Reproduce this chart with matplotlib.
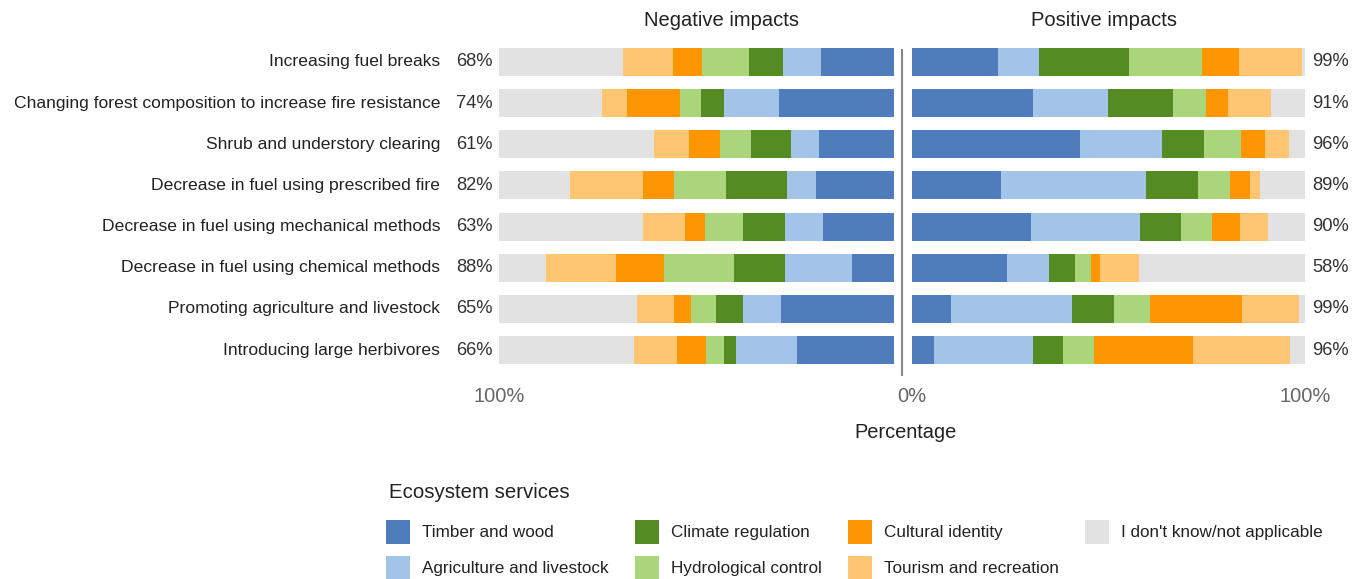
import matplotlib
matplotlib.use("Agg")
import matplotlib.pyplot as plt
import matplotlib.transforms as mtransforms
from matplotlib.patches import Patch
from matplotlib.lines import Line2D
import numpy as np

plt.rcParams["font.family"] = ["Liberation Sans", "DejaVu Sans"]

categories = [
    "Increasing fuel breaks",
    "Changing forest composition to increase fire resistance",
    "Shrub and understory clearing",
    "Decrease in fuel using prescribed fire",
    "Decrease in fuel using mechanical methods",
    "Decrease in fuel using chemical methods",
    "Promoting agriculture and livestock",
    "Introducing large herbivores",
]

services = [
    "Timber and wood",
    "Agriculture and livestock",
    "Climate regulation",
    "Hydrological control",
    "Cultural identity",
    "Tourism and recreation",
    "I don't know/not applicable",
]
colors = ["#4f7dbc", "#a2c4e9", "#548b23", "#abd57b", "#fe9502", "#fec672", "#e2e2e2"]

# negative impacts (% of respondents)
timber_neg = [18.6, 29.2, 19.1, 19.8, 18.1, 10.7, 28.5, 24.5]
agri_neg = [9.6, 13.9, 7.0, 7.3, 9.5, 16.9, 9.8, 15.6]
climate_neg = [8.6, 5.7, 10.2, 15.4, 10.6, 12.9, 6.8, 3.0]
hydro_neg = [11.9, 5.5, 7.8, 13.2, 9.6, 17.8, 6.2, 4.6]
cultural_neg = [7.3, 13.3, 7.9, 7.9, 5.2, 12.2, 4.5, 7.2]
tourism_neg = [12.5, 6.3, 8.8, 18.4, 10.6, 17.7, 9.2, 10.9]
unknown_neg = [31.4, 26.2, 39.2, 17.9, 36.3, 11.8, 35.1, 34.3]

# positive impacts
timber_pos = [21.8, 30.7, 42.8, 22.6, 30.2, 24.3, 9.9, 5.6]
agri_pos = [10.6, 19.2, 20.8, 36.9, 27.9, 10.6, 30.8, 25.3]
climate_pos = [22.9, 16.4, 10.6, 13.3, 10.3, 6.6, 10.7, 7.6]
hydro_pos = [18.5, 8.6, 9.4, 8.0, 7.9, 4.1, 9.1, 7.8]
cultural_pos = [9.4, 5.6, 6.1, 5.3, 7.1, 2.3, 23.4, 25.1]
tourism_pos = [16.0, 10.8, 6.3, 2.4, 7.1, 9.8, 14.7, 24.9]
unknown_pos = [0.8, 8.6, 4.0, 11.4, 9.5, 42.3, 1.4, 3.6]

neg_pct = ["68%", "74%", "61%", "82%", "63%", "88%", "65%", "66%"]
pos_pct = ["99%", "91%", "96%", "89%", "90%", "58%", "99%", "96%"]

neg_series = [timber_neg, agri_neg, climate_neg, hydro_neg, cultural_neg, tourism_neg, unknown_neg]
pos_series = [timber_pos, agri_pos, climate_pos, hydro_pos, cultural_pos, tourism_pos, unknown_pos]

W, H = 1361, 579
fig = plt.figure(figsize=(W / 100, H / 100), dpi=100)

bottom = 1 - 370.6 / H
top = 1 - 41.4 / H
ax_neg = fig.add_axes([499 / W, bottom, (894 - 499) / W, top - bottom])
ax_pos = fig.add_axes([912 / W, bottom, (1305 - 912) / W, top - bottom])

y = np.arange(len(categories))
bar_h = 0.68

for ax, series in [(ax_neg, neg_series), (ax_pos, pos_series)]:
    left = np.zeros(len(categories))
    for vals, c in zip(series, colors):
        ax.barh(y, vals, left=left, height=bar_h, color=c, edgecolor="none")
        left += np.array(vals)
    ax.set_ylim(len(categories) - 0.5, -0.5)
    ax.set_yticks([])
    for s in ax.spines.values():
        s.set_visible(False)
    ax.tick_params(axis="x", length=0, pad=12, labelsize=14.5, labelcolor="#666666")

ax_neg.set_xlim(100, 0)
ax_neg.set_xticks([100])
ax_neg.set_xticklabels(["100%"])
ax_pos.set_xlim(0, 100)
ax_pos.set_xticks([0, 100])
ax_pos.set_xticklabels(["0%", "100%"])

# labels on the left and right
trans_l = mtransforms.blended_transform_factory(fig.transFigure, ax_neg.transData)
trans_r = mtransforms.blended_transform_factory(fig.transFigure, ax_pos.transData)
for i, cat in enumerate(categories):
    ax_neg.text(440 / W, i, cat, transform=trans_l, ha="right", va="center",
                fontsize=12.6, color="#222222")
    ax_neg.text(493 / W, i, neg_pct[i], transform=trans_l, ha="right", va="center",
                fontsize=13.2, color="#333333")
    ax_pos.text(1312 / W, i, pos_pct[i], transform=trans_r, ha="left", va="center",
                fontsize=13.2, color="#333333")

# divider between panels
fig.add_artist(Line2D([902 / W, 902 / W], [1 - 50 / H, 1 - 375 / H],
                      transform=fig.transFigure, color="#888888", lw=1.5))

fig.text(722 / W, 1 - 20 / H, "Negative impacts", ha="center", va="center",
         fontsize=14.5, color="#222222")
fig.text(1104 / W, 1 - 20 / H, "Positive impacts", ha="center", va="center",
         fontsize=14.5, color="#222222")
fig.text(906 / W, 1 - 432 / H, "Percentage", ha="center", va="center",
         fontsize=14.4, color="#222222")

# legend
fig.text(389 / W, 1 - 492 / H, "Ecosystem services", ha="left", va="center",
         fontsize=14.7, color="#222222")
handles = [Patch(facecolor=c, edgecolor="none") for c in colors]
leg = fig.legend(handles, services, loc="upper left",
                 bbox_to_anchor=(386 / W, 1 - 520 / H), ncol=4, frameon=False,
                 fontsize=12.3,
                 handlelength=1.4, handleheight=1.75, handletextpad=0.7,
                 columnspacing=1.55, labelspacing=0.7, borderpad=0, borderaxespad=0)
for t in leg.get_texts():
    t.set_color("#222222")

fig.savefig("out.png", dpi=100)
plt.close(fig)
